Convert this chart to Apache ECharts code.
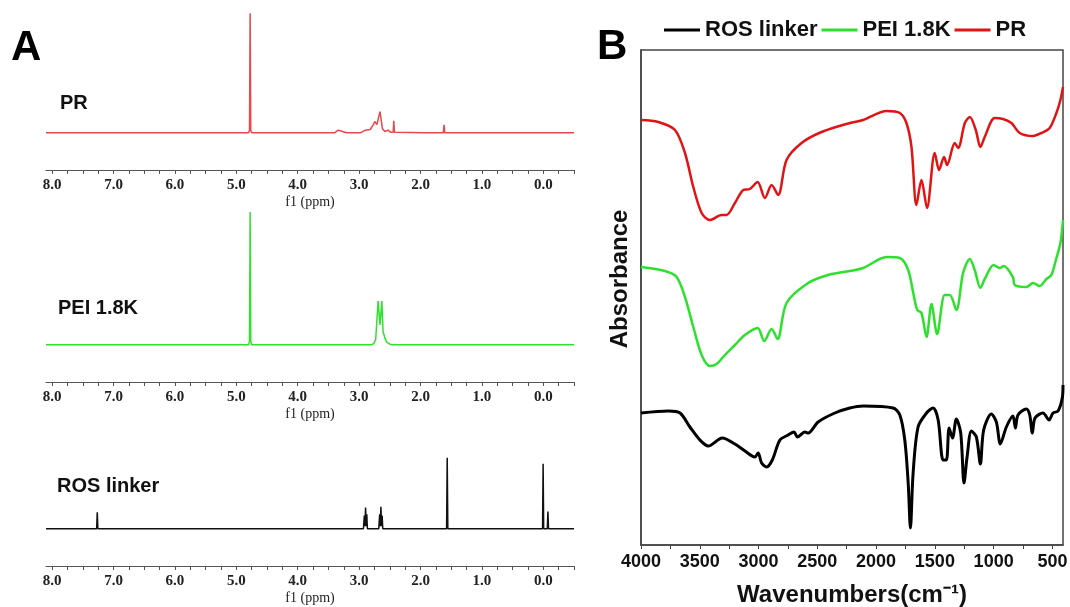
<!DOCTYPE html>
<html>
<head>
<meta charset="utf-8">
<script src="https://cdn.jsdelivr.net/npm/echarts@6/dist/echarts.min.js"></script>
<style>
  html, body { margin: 0; padding: 0; background: #fff; }
  #chart { width: 1070px; height: 607px; }
</style>
</head>
<body>
<div id="chart"></div>
<script>
// ---- panel A: 1H NMR, [ppm, intensity] ----
const nmrPR = [
  [8.1, 0], [4.80, 0], [4.785, 0.02], [4.775, 0.90], [4.765, 0.02], [4.75, 0],
  [3.40, 0], [3.34, 0.02], [3.31, 0.03], [3.27, 0.01], [3.20, 0],
  [2.98, 0], [2.90, 0.02], [2.82, 0.025], [2.77, 0.06], [2.745, 0.085], [2.71, 0.062],
  [2.66, 0.16], [2.62, 0.03], [2.58, 0.01], [2.53, 0.02], [2.49, 0.005],
  [2.445, 0.005], [2.435, 0.09], [2.425, 0.005], [2.40, 0],
  [1.92, 0], [1.89, 0.006], [1.86, 0], [1.63, 0], [1.615, 0.06], [1.605, 0],
  [1.33, 0], [1.30, 0.012], [1.27, 0], [-0.5, 0]
];
const nmrPEI = [
  [8.1, 0], [4.80, 0], [4.785, 0.03], [4.775, 1.0], [4.765, 0.03], [4.75, 0],
  [2.80, 0], [2.76, 0.01], [2.73, 0.04], [2.69, 0.33], [2.66, 0.15], [2.63, 0.33],
  [2.61, 0.10], [2.58, 0.05], [2.55, 0.02], [2.50, 0.005], [2.45, 0], [-0.5, 0]
];
const nmrROS = [
  [8.1, 0], [7.275, 0], [7.265, 0.125], [7.255, 0],
  [2.93, 0], [2.915, 0.10], [2.905, 0.02], [2.895, 0.16], [2.885, 0.02], [2.875, 0.11], [2.865, 0],
  [2.68, 0], [2.665, 0.11], [2.655, 0.02], [2.645, 0.165], [2.635, 0.02], [2.625, 0.10], [2.615, 0],
  [1.575, 0], [1.565, 0.535], [1.555, 0],
  [1.44, 0], [1.42, 0.012], [1.40, 0], [1.27, 0], [1.25, 0.012], [1.23, 0],
  [0.88, 0], [0.85, 0.006], [0.82, 0],
  [0.012, 0], [0.003, 0.49], [-0.006, 0], [-0.065, 0], [-0.075, 0.13], [-0.085, 0], [-0.5, 0]
];
const nmrLabels = [8, 7, 6, 5, 4, 3, 2, 1, 0];
const nmrTicks = [8, 7.75, 7.5, 7.25, 7, 6.75, 6.5, 6.25, 6, 5.75, 5.5, 5.25, 5, 4.75, 4.5, 4.25,
  4, 3.75, 3.5, 3.25, 3, 2.75, 2.5, 2.25, 2, 1.75, 1.5, 1.25, 1, 0.75, 0.5, 0.25, 0, -0.25, -0.5];

// ---- panel B: FTIR, wavenumber (cm-1) and absorbance (a.u.) ----
const prWn  = [4000, 3853, 3711, 3626, 3555, 3484, 3414, 3314, 3272, 3201, 3130, 3074, 3008, 2946, 2889, 2833,
  2762, 2634, 2464, 2223, 2110, 1911, 1798, 1742, 1699, 1657, 1614, 1567, 1501, 1464, 1422, 1396, 1331, 1302,
  1245, 1203, 1152, 1113, 1076, 991, 920, 849, 778, 665, 594, 523, 466, 432, 410];
const prAbs = [4.25, 4.23, 4.15, 3.92, 3.58, 3.32, 3.25, 3.30, 3.30, 3.42, 3.55, 3.56, 3.63, 3.47, 3.60, 3.50,
  3.85, 4.02, 4.13, 4.22, 4.25, 4.34, 4.32, 4.22, 3.98, 3.40, 3.65, 3.37, 3.92, 3.75, 3.88, 3.80, 4.02, 3.97,
  4.22, 4.28, 4.15, 3.98, 4.08, 4.27, 4.26, 4.22, 4.12, 4.09, 4.12, 4.17, 4.32, 4.45, 4.58];

const peiWn  = [4000, 3796, 3697, 3626, 3555, 3484, 3414, 3357, 3286, 3201, 3116, 3008, 2952, 2889, 2838, 2762,
  2578, 2408, 2223, 2110, 1911, 1798, 1727, 1684, 1650, 1614, 1571, 1529, 1481, 1416, 1373, 1317, 1260, 1203,
  1161, 1113, 1076, 1000, 949, 915, 836, 821, 722, 665, 608, 551, 509, 466, 432, 410];
const peiAbs = [2.78, 2.74, 2.68, 2.48, 2.18, 1.90, 1.79, 1.81, 1.90, 2.00, 2.10, 2.17, 2.04, 2.16, 2.06, 2.42,
  2.62, 2.70, 2.74, 2.77, 2.88, 2.87, 2.75, 2.52, 2.35, 2.32, 2.08, 2.41, 2.11, 2.50, 2.50, 2.35, 2.72, 2.86,
  2.75, 2.57, 2.66, 2.80, 2.77, 2.79, 2.68, 2.60, 2.58, 2.62, 2.59, 2.66, 2.70, 2.87, 3.02, 3.25];

const rosWn  = [4000, 3767, 3668, 3584, 3499, 3428, 3308, 3201, 3116, 3031, 3003, 2974, 2931, 2883, 2818, 2748,
  2699, 2668, 2606, 2578, 2493, 2351, 2223, 2110, 1855, 1798, 1756, 1727, 1708, 1685, 1643, 1571, 1515, 1472,
  1430, 1402, 1379, 1350, 1317, 1280, 1252, 1226, 1189, 1147, 1113, 1085, 1020, 977, 943, 892, 836, 815, 793,
  722, 693, 671, 648, 580, 529, 495, 452, 415, 410];
const rosAbs = [1.32, 1.34, 1.32, 1.18, 1.05, 0.99, 1.07, 1.01, 0.94, 0.88, 0.92, 0.82, 0.78, 0.85, 1.05, 1.10,
  1.13, 1.08, 1.13, 1.12, 1.23, 1.32, 1.37, 1.39, 1.37, 1.30, 1.05, 0.62, 0.17, 0.72, 1.18, 1.32, 1.37, 1.25,
  0.85, 0.85, 1.17, 1.07, 1.26, 1.12, 0.62, 0.88, 1.14, 1.08, 0.81, 1.15, 1.31, 1.23, 1.01, 1.18, 1.29, 1.17, 1.30,
  1.36, 1.30, 1.12, 1.27, 1.32, 1.25, 1.32, 1.34, 1.48, 1.60];

const irLabels = [4000, 3500, 3000, 2500, 2000, 1500, 1000, 500];
const irTicks = [4000, 3750, 3500, 3250, 3000, 2750, 2500, 2250, 2000, 1750, 1500, 1250, 1000, 750, 500];

const zip = (xs, ys) => xs.map((x, i) => [x, ys[i]]);

const sans = 'Liberation Sans';
const serif = 'Liberation Serif';
const nmrTop = [0, 212, 396];

const chart = echarts.init(document.getElementById('chart'));

const nmrGrids = nmrTop.map(t => ({ left: 46, width: 528, top: t, height: 170, outerBoundsMode: 'none' }));
const nmrX = nmrTop.map((t, i) => ({
  gridIndex: i,
  type: 'value',
  min: -0.5,
  max: 8.1,
  inverse: true,
  splitLine: { show: false },
  axisLine: { onZero: false, lineStyle: { color: '#555', width: 1 } },
  axisTick: { customValues: nmrTicks, length: 4, lineStyle: { color: '#555' } },
  axisLabel: {
    customValues: nmrLabels,
    formatter: v => v.toFixed(1),
    fontFamily: serif, fontWeight: 'bold', fontSize: 15, color: '#222', margin: 8
  },
  name: 'f1 (ppm)',
  nameLocation: 'middle',
  nameGap: 25,
  nameTextStyle: { fontFamily: serif, fontSize: 14, color: '#222' }
}));
const nmrY = nmrTop.map((t, i) => ({ gridIndex: i, type: 'value', min: -0.28, max: 1, show: false }));

const option = {
  backgroundColor: '#fff',
  animation: false,
  title: [
    { text: 'A', left: 11, top: 27, padding: 0, textStyle: { fontFamily: sans, fontSize: 42, fontWeight: 'bold', color: '#000' } },
    { text: 'B', left: 597, top: 26, padding: 0, textStyle: { fontFamily: sans, fontSize: 42, fontWeight: 'bold', color: '#000' } },
    { text: 'PR', left: 60, top: 93, padding: 0, textStyle: { fontFamily: sans, fontSize: 20, fontWeight: 'bold', color: '#111' } },
    { text: 'PEI 1.8K', left: 58, top: 298, padding: 0, textStyle: { fontFamily: sans, fontSize: 20, fontWeight: 'bold', color: '#111' } },
    { text: 'ROS linker', left: 57, top: 476, padding: 0, textStyle: { fontFamily: sans, fontSize: 20, fontWeight: 'bold', color: '#111' } }
  ],
  graphic: [{
    type: 'text',
    x: 620,
    y: 279,
    rotation: Math.PI / 2,
    style: {
      text: 'Absorbance',
      align: 'center',
      verticalAlign: 'middle',
      fontFamily: sans,
      fontSize: 24,
      fontWeight: 'bold',
      fill: '#111'
    }
  }],
  legend: {
    data: ['ROS linker', 'PEI 1.8K', 'PR'],
    left: 664,
    top: 19,
    icon: 'rect',
    itemWidth: 36,
    itemHeight: 3,
    itemGap: 4,
    padding: 0,
    textStyle: { fontFamily: sans, fontSize: 22, fontWeight: 'bold', color: '#111' }
  },
  grid: nmrGrids.concat([{
    left: 641, right: 7, top: 50, bottom: 62, outerBoundsMode: 'none',
    show: true, borderColor: '#444', borderWidth: 1.5
  }]),
  xAxis: nmrX.concat([{
    gridIndex: 3,
    type: 'value',
    min: 410,
    max: 4000,
    inverse: true,
    splitLine: { show: false },
    axisLine: { onZero: false, lineStyle: { color: '#444', width: 1.5 } },
    axisTick: { customValues: irTicks, length: 4, lineStyle: { color: '#444' } },
    axisLabel: {
      customValues: irLabels, formatter: v => String(v),
      fontFamily: sans, fontWeight: 'bold', fontSize: 18, color: '#111', margin: 8
    },
    name: 'Wavenumbers(cm⁻¹)',
    nameLocation: 'middle',
    nameGap: 38,
    nameTextStyle: { fontFamily: sans, fontSize: 24, fontWeight: 'bold', color: '#111' }
  }]),
  yAxis: nmrY.concat([{
    gridIndex: 3,
    type: 'value',
    min: 0,
    max: 4.95,
    splitLine: { show: false },
    axisLabel: { show: false },
    axisTick: { show: false },
    axisLine: { show: true, lineStyle: { color: '#444', width: 1.5 } }
  }]),
  series: [
    { name: 'PR 1H', type: 'line', xAxisIndex: 0, yAxisIndex: 0, data: nmrPR, showSymbol: false,
      lineStyle: { color: '#e8474b', width: 1.5 } },
    { name: 'PEI 1H', type: 'line', xAxisIndex: 1, yAxisIndex: 1, data: nmrPEI, showSymbol: false,
      lineStyle: { color: '#2fe02f', width: 1.5 } },
    { name: 'ROS 1H', type: 'line', xAxisIndex: 2, yAxisIndex: 2, data: nmrROS, showSymbol: false,
      lineStyle: { color: '#111', width: 1.5 } },
    { name: 'ROS linker', type: 'line', xAxisIndex: 3, yAxisIndex: 3, data: zip(rosWn, rosAbs), showSymbol: false,
      smooth: 0.3, itemStyle: { color: '#000' }, lineStyle: { color: '#000', width: 3 } },
    { name: 'PEI 1.8K', type: 'line', xAxisIndex: 3, yAxisIndex: 3, data: zip(peiWn, peiAbs), showSymbol: false,
      smooth: 0.3, itemStyle: { color: '#2ee02e' }, lineStyle: { color: '#2ee02e', width: 2.5 } },
    { name: 'PR', type: 'line', xAxisIndex: 3, yAxisIndex: 3, data: zip(prWn, prAbs), showSymbol: false,
      smooth: 0.3, itemStyle: { color: '#e01414' }, lineStyle: { color: '#e01414', width: 2.5 } }
  ]
};

chart.setOption(option);
</script>
</body>
</html>
